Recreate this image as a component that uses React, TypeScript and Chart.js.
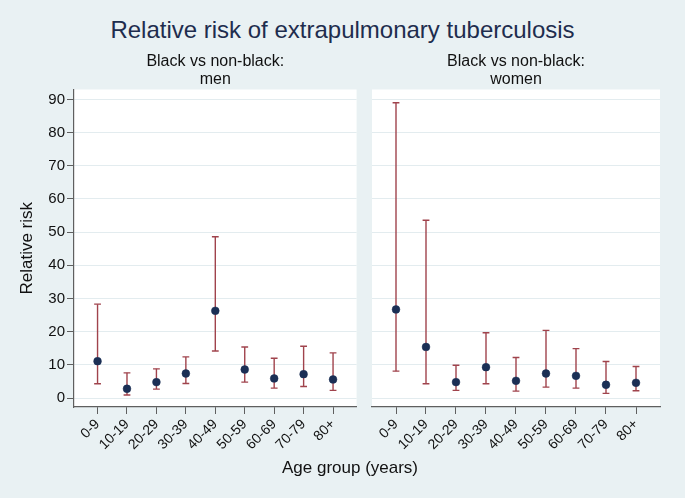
import React, { useEffect, useRef } from "react";
import { Chart, registerables } from "chart.js";
Chart.register(...registerables);

const FONT = "'Liberation Sans', Arial, Helvetica, sans-serif";

const mainTitle = "Relative risk of extrapulmonary tuberculosis";
const xTitle = "Age group (years)";
const yTitle = "Relative risk";
const menPanelTitle = ["Black vs non-black:", "men"];
const womenPanelTitle = ["Black vs non-black:", "women"];

const ageGroups = ["0-9", "10-19", "20-29", "30-39", "40-49", "50-59", "60-69", "70-79", "80+"];
const yTicks = [0, 10, 20, 30, 40, 50, 60, 70, 80, 90];

const menRR = [11.1, 2.8, 4.8, 7.4, 26.3, 8.6, 5.9, 7.2, 5.6];
const menLower = [4.3, 0.9, 2.7, 4.4, 14.2, 4.8, 3.0, 3.5, 2.3];
const menUpper = [28.3, 7.6, 8.8, 12.4, 48.6, 15.4, 12.0, 15.6, 13.6];

const womenRR = [26.7, 15.4, 4.8, 9.3, 5.2, 7.4, 6.7, 4.0, 4.6];
const womenLower = [8.1, 4.3, 2.3, 4.3, 2.1, 3.3, 3.0, 1.4, 2.2];
const womenUpper = [89.0, 53.6, 9.9, 19.7, 12.2, 20.4, 14.9, 11.0, 9.5];

const BG = "#e9f1f3";
const GRID = "#e3ecef";
const AXIS = "#5f5f5f";
const POINT = "#1b2f55";
const CI = "#a0434c";

const plotBg = {
  id: "plotBg",
  beforeDraw(chart: any) {
    const { ctx, chartArea } = chart;
    ctx.save();
    ctx.fillStyle = "#ffffff";
    ctx.fillRect(chartArea.left, chartArea.top, chartArea.right - chartArea.left, chartArea.bottom - chartArea.top);
    ctx.restore();
  },
};

function makeConfig(panelTitle: string[], rr: number[], lo: number[], hi: number[], first: boolean): any {
  const whisker: any[] = [];
  ageGroups.forEach((_, i) => {
    whisker.push({ x: i, y: lo[i] });
    whisker.push({ x: i, y: hi[i] });
    whisker.push({ x: i, y: null });
  });
  const caps: any[] = [];
  ageGroups.forEach((_, i) => {
    caps.push({ x: i, y: lo[i] });
    caps.push({ x: i, y: hi[i] });
  });
  return {
    type: "scatter",
    data: {
      datasets: [
        {
          data: rr.map((v, i) => ({ x: i, y: v })),
          pointRadius: 3.9,
          pointBackgroundColor: POINT,
          pointBorderColor: POINT,
          pointBorderWidth: 0.5,
        },
        {
          data: caps,
          pointStyle: "line",
          pointRadius: 3.4,
          pointBorderColor: CI,
          pointBorderWidth: 1.4,
        },
        {
          data: whisker,
          showLine: true,
          spanGaps: false,
          borderColor: CI,
          borderWidth: 1.4,
          pointRadius: 0,
        },
      ],
    },
    options: {
      animation: false,
      responsive: false,
      maintainAspectRatio: false,
      events: [],
      layout: { padding: { left: 0, right: first ? 1 : 25, top: 0, bottom: 0 } },
      plugins: {
        legend: { display: false },
        tooltip: { enabled: false },
        title: {
          display: true,
          text: panelTitle,
          fullSize: false,
          color: "#111",
          font: { family: FONT, size: 16, weight: "normal", lineHeight: 1.125 },
          padding: { top: 52.5, bottom: 1 },
        },
      },
      scales: {
        x: {
          type: "linear",
          min: -0.8,
          max: 8.8,
          afterBuildTicks: (s: any) => {
            s.ticks = ageGroups.map((_, i) => ({ value: i }));
          },
          afterFit: (s: any) => {
            s.height = 91;
          },
          ticks: {
            autoSkip: false,
            minRotation: 45,
            maxRotation: 45,
            padding: 2,
            color: "#111",
            font: { family: FONT, size: 14 },
            callback: (v: any) => ageGroups[v] ?? "",
          },
          grid: {
            display: true,
            drawOnChartArea: false,
            drawTicks: true,
            tickLength: 7,
            tickColor: AXIS,
            color: AXIS,
          },
          border: { display: true, color: AXIS, width: 1.2 },
        },
        y: {
          type: "linear",
          min: -2.7,
          max: 93,
          afterBuildTicks: (s: any) => {
            s.ticks = yTicks.map((v) => ({ value: v }));
          },
          afterFit: (s: any) => {
            s.width = first ? 74 : 10;
          },
          title: first
            ? {
                display: true,
                text: yTitle,
                color: "#111",
                font: { family: FONT, size: 17 },
                padding: { top: 17, bottom: 0 },
              }
            : { display: false },
          ticks: first
            ? {
                display: true,
                padding: 2,
                color: "#111",
                font: { family: FONT, size: 15 },
              }
            : { display: false },
          grid: {
            display: true,
            drawOnChartArea: true,
            drawTicks: first,
            tickLength: 7,
            tickColor: AXIS,
            color: GRID,
            lineWidth: 1,
          },
          border: { display: first, color: AXIS, width: 1.2 },
        },
      },
    },
    plugins: [plotBg],
  };
}

function Panel(props: { left: number; width: number; title: string[]; rr: number[]; lo: number[]; hi: number[]; first: boolean }) {
  const ref = useRef<HTMLCanvasElement | null>(null);
  useEffect(() => {
    if (!ref.current) return;
    const chart = new Chart(ref.current, makeConfig(props.title, props.rr, props.lo, props.hi, props.first));
    return () => chart.destroy();
  }, []);
  return (
    <canvas
      ref={ref}
      width={props.width}
      height={498}
      style={{ position: "absolute", left: props.left, top: 0, width: props.width, height: 498 }}
    />
  );
}

export default function App() {
  useEffect(() => {
    document.body.style.margin = "0";
  }, []);
  return (
    <div
      style={{
        position: "absolute",
        left: 0,
        top: 0,
        width: 685,
        height: 498,
        background: BG,
        overflow: "hidden",
        fontFamily: FONT,
      }}
    >
      <div
        style={{
          position: "absolute",
          left: 0,
          top: 15,
          width: 685,
          height: 30,
          lineHeight: "30px",
          textAlign: "center",
          fontSize: 24,
          color: "#1e2d4e",
        }}
      >
        {mainTitle}
      </div>
      <Panel left={0} width={362} title={menPanelTitle} rr={menRR} lo={menLower} hi={menUpper} first={true} />
      <Panel left={362} width={323} title={womenPanelTitle} rr={womenRR} lo={womenLower} hi={womenUpper} first={false} />
      <div
        style={{
          position: "absolute",
          left: 0,
          top: 457,
          width: 700,
          height: 22,
          lineHeight: "22px",
          textAlign: "center",
          fontSize: 17,
          color: "#111",
        }}
      >
        {xTitle}
      </div>
    </div>
  );
}
